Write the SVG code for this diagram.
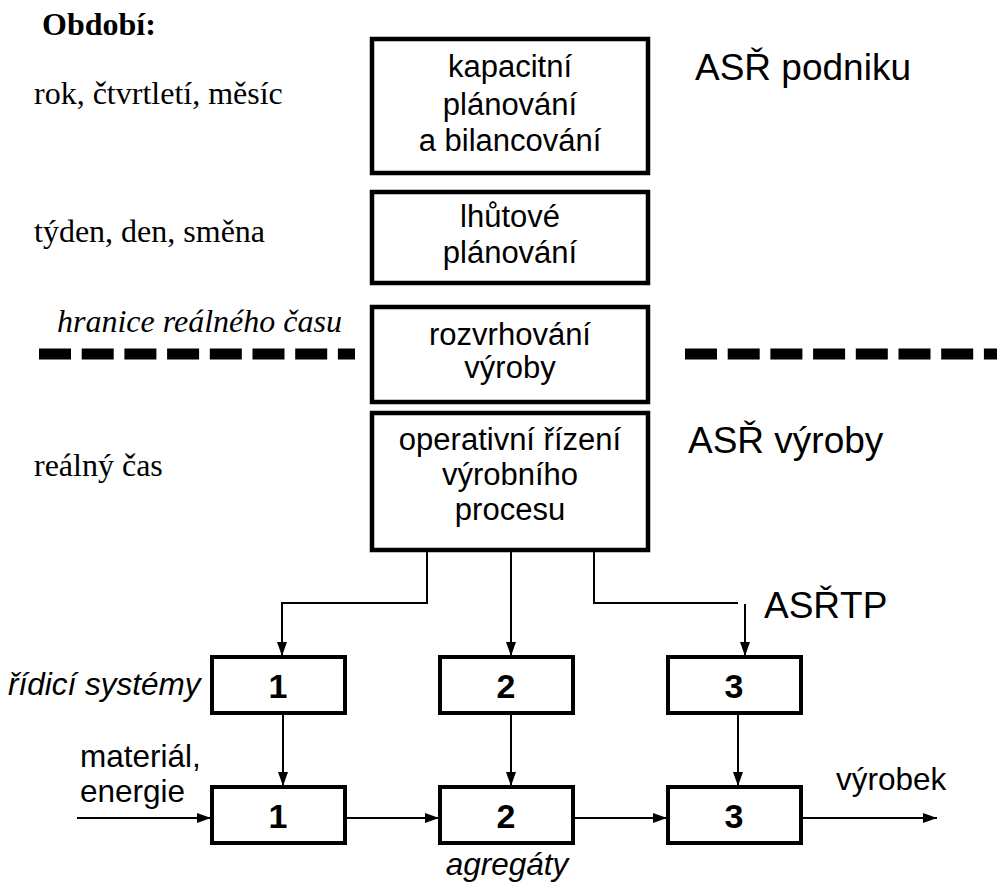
<svg xmlns="http://www.w3.org/2000/svg" width="997" height="883" viewBox="0 0 997 883">
<style>
.big{fill:#fff;stroke:#000;stroke-width:4.5}
.sm{fill:#fff;stroke:#000;stroke-width:4}
.t{font-family:"Liberation Sans",Arial,sans-serif;font-size:31px;fill:#000;text-anchor:middle}
.n{font-family:"Liberation Sans",Arial,sans-serif;font-size:34px;font-weight:bold;fill:#000;text-anchor:middle}
.s{font-family:"Liberation Serif","Times New Roman",serif;font-size:32px;fill:#000}
.a{font-family:"Liberation Sans",Arial,sans-serif;font-size:37px;fill:#000}
.l{font-family:"Liberation Sans",Arial,sans-serif;font-size:31.5px;fill:#000}
.c{fill:none;stroke:#000;stroke-width:2}
.d{fill:none;stroke:#000;stroke-width:11;stroke-dasharray:32 10.7}
</style>
<defs>
<marker id="ar" viewBox="0 0 14 10" refX="14" refY="5" markerWidth="14" markerHeight="10" markerUnits="userSpaceOnUse" orient="auto">
<path d="M0,0 L14,5 L0,10 Z" fill="#000"/>
</marker>
</defs>

<g id="labels">
<text class="s" x="42" y="35" font-weight="bold">Období:</text>
<text class="s" x="34" y="104">rok, čtvrtletí, měsíc</text>
<text class="s" x="34" y="242">týden, den, směna</text>
<text class="s" x="57" y="332" font-style="italic">hranice reálného času</text>
<text class="s" x="34" y="476">reálný čas</text>
<text class="a" x="695" y="80">ASŘ podniku</text>
<text class="a" x="688" y="453">ASŘ výroby</text>
<text class="a" x="764" y="618">ASŘTP</text>
<text class="l" x="8" y="695" font-style="italic" font-size="32">řídicí systémy</text>
<text class="l" x="80" y="767">materiál,</text>
<text class="l" x="80" y="802">energie</text>
<text class="l" x="836" y="790">výrobek</text>
<text class="l" x="507" y="875" font-style="italic" text-anchor="middle" font-size="30">agregáty</text>
</g>

<g id="boundary">
<line class="d" x1="39" y1="354" x2="355" y2="354"/>
<line class="d" x1="685" y1="354" x2="997" y2="354"/>
</g>

<g id="connectors">
<polyline class="c" points="427,550 427,603 282,603 282,656" marker-end="url(#ar)"/>
<line class="c" x1="511" y1="550" x2="511" y2="656" marker-end="url(#ar)"/>
<polyline class="c" points="594,550 594,603 738,603"/>
<line class="c" x1="745" y1="604" x2="745" y2="656" marker-end="url(#ar)"/>
<line class="c" x1="283" y1="713" x2="283" y2="786" marker-end="url(#ar)"/>
<line class="c" x1="511" y1="713" x2="511" y2="786" marker-end="url(#ar)"/>
<line class="c" x1="738" y1="713" x2="738" y2="786" marker-end="url(#ar)"/>
<line class="c" x1="77" y1="818" x2="211" y2="818" marker-end="url(#ar)"/>
<line class="c" x1="345" y1="818" x2="439" y2="818" marker-end="url(#ar)"/>
<line class="c" x1="573" y1="818" x2="667" y2="818" marker-end="url(#ar)"/>
<line class="c" x1="801" y1="818" x2="937" y2="818" marker-end="url(#ar)"/>
</g>

<g id="kapacitni">
<rect class="big" x="372" y="39" width="276" height="134"/>
<text class="t" x="510" y="77">kapacitní</text>
<text class="t" x="510" y="115">plánování</text>
<text class="t" x="510" y="151">a bilancování</text>
</g>
<g id="lhutove">
<rect class="big" x="372" y="192" width="276" height="91"/>
<text class="t" x="510" y="227">lhůtové</text>
<text class="t" x="510" y="263">plánování</text>
</g>
<g id="rozvrhovani">
<rect class="big" x="372" y="307" width="276" height="95"/>
<text class="t" x="510" y="345">rozvrhování</text>
<text class="t" x="510" y="378">výroby</text>
</g>
<g id="operativni">
<rect class="big" x="372" y="413" width="276" height="137"/>
<text class="t" x="510" y="450">operativní řízení</text>
<text class="t" x="510" y="485">výrobního</text>
<text class="t" x="510" y="520">procesu</text>
</g>

<g id="ridici1"><rect class="sm" x="212" y="657" width="133" height="56"/><text class="n" x="278" y="698">1</text></g>
<g id="ridici2"><rect class="sm" x="440" y="657" width="133" height="56"/><text class="n" x="506" y="698">2</text></g>
<g id="ridici3"><rect class="sm" x="668" y="657" width="133" height="56"/><text class="n" x="734" y="698">3</text></g>
<g id="agregat1"><rect class="sm" x="212" y="787" width="133" height="56"/><text class="n" x="278" y="828">1</text></g>
<g id="agregat2"><rect class="sm" x="440" y="787" width="133" height="56"/><text class="n" x="506" y="828">2</text></g>
<g id="agregat3"><rect class="sm" x="668" y="787" width="133" height="56"/><text class="n" x="734" y="828">3</text></g>
</svg>
